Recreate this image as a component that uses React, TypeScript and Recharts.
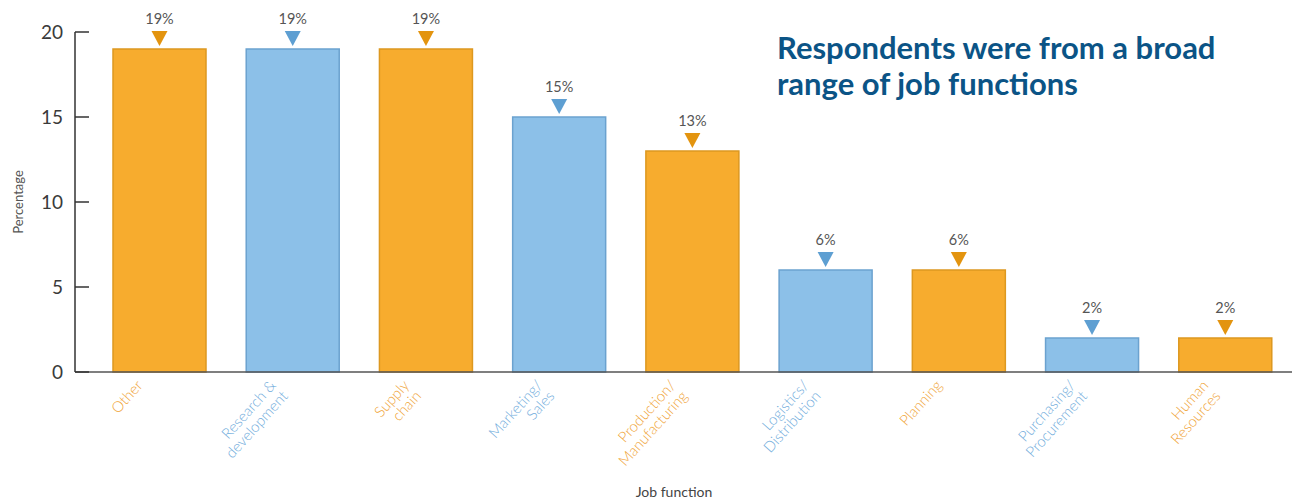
import React from "react";
import { BarChart, Bar, XAxis, YAxis, Cell, LabelList } from "recharts";

const categories = [
  "Other",
  "Research &\ndevelopment",
  "Supply\nchain",
  "Marketing/\nSales",
  "Production/\nManufacturing",
  "Logistics/\nDistribution",
  "Planning",
  "Purchasing/\nProcurement",
  "Human\nResources",
];
const percentages = [19, 19, 19, 15, 13, 6, 6, 2, 2];
const colorGroup = ["orange", "blue", "orange", "blue", "orange", "blue", "orange", "blue", "orange"];
const yTicks = [0, 5, 10, 15, 20];

const palette: Record<string, { fill: string; stroke: string; marker: string; label: string }> = {
  orange: { fill: "#F7AC2E", stroke: "#DD9820", marker: "#E3940F", label: "#F0A437" },
  blue: { fill: "#8CC0E8", stroke: "#6BA2CF", marker: "#5E9FD2", label: "#72ADDC" },
};

const data = categories.map((c, i) => ({ name: c, value: percentages[i], group: colorGroup[i] }));

const YTick = (props: any) => {
  const { x, y, payload } = props;
  return (
    <g>
      <text x={x} y={y} dy="0.35em" textAnchor="end" fill="#3a3a3a" fontSize={19} fontFamily="Lato, sans-serif">
        {payload.value}
      </text>
      <line x1={x + 12} x2={x + 26} y1={y} y2={y} stroke="#333" strokeWidth={1.5} />
    </g>
  );
};

const XTick = (props: any) => {
  const { x, y, payload, index } = props;
  const lines = String(payload.value).split("\n");
  const col = palette[colorGroup[index]].label;
  return (
    <g transform={`translate(${x - 16},${y + 14}) rotate(-48)`}>
      <text textAnchor="end" fill={col} fontSize={15} fontFamily="Lato, sans-serif" fontWeight={300}>
        {lines.map((l, i) => (
          <tspan key={i} x={0} dy={i === 0 ? 0 : 16}>
            {l}
          </tspan>
        ))}
      </text>
    </g>
  );
};

const ValueLabel = (props: any) => {
  const { x, y, width, value, index } = props;
  const cx = x + width / 2;
  const col = palette[colorGroup[index]].marker;
  const tipY = y - 3;
  return (
    <g>
      <polygon points={`${cx - 8},${tipY - 15} ${cx + 8},${tipY - 15} ${cx},${tipY}`} fill={col} />
      <text x={cx} y={tipY - 22} textAnchor="middle" fill="#555" fontSize={14.5} fontFamily="Lato, sans-serif">
        {value}%
      </text>
    </g>
  );
};

export default function App() {
  return (
    <div style={{ position: "absolute", left: 0, top: 0, width: 1297, height: 503, background: "#fff" }}>
      <BarChart width={1297} height={503} data={data} margin={{ top: 32, right: 5, bottom: 0, left: 0 }}>
        <text x={777} y={59} fill="#0B5486" fontSize={31} fontWeight={700} fontFamily="Lato, sans-serif">
          Respondents were from a broad
        </text>
        <text x={777} y={95} fill="#0B5486" fontSize={31} fontWeight={700} fontFamily="Lato, sans-serif">
          range of job functions
        </text>
        <text
          x={18}
          y={202}
          transform="rotate(-90 18 202)"
          textAnchor="middle"
          dy="0.35em"
          fill="#555"
          fontSize={13}
          fontFamily="Lato, sans-serif"
        >
          Percentage
        </text>
        <text x={674} y={497} textAnchor="middle" fill="#444" fontSize={14} fontFamily="Lato, sans-serif">
          Job function
        </text>
        <XAxis
          dataKey="name"
          interval={0}
          height={131}
          tickSize={0}
          tickMargin={0}
          tick={<XTick />}
          padding={{ left: 18, right: 0 }}
          axisLine={{ stroke: "#555", strokeWidth: 1.5 }}
          tickLine={false}
        />
        <YAxis
          domain={[0, 20]}
          ticks={yTicks}
          width={75}
          tickSize={0}
          tickMargin={12}
          tick={<YTick />}
          tickLine={false}
          axisLine={{ stroke: "#333", strokeWidth: 1.5 }}
        />
        <Bar dataKey="value" barSize={93} isAnimationActive={false} strokeWidth={1.5}>
          {data.map((d, i) => (
            <Cell key={i} fill={palette[d.group].fill} stroke={palette[d.group].stroke} />
          ))}
          <LabelList dataKey="value" content={<ValueLabel />} />
        </Bar>
      </BarChart>
    </div>
  );
}
